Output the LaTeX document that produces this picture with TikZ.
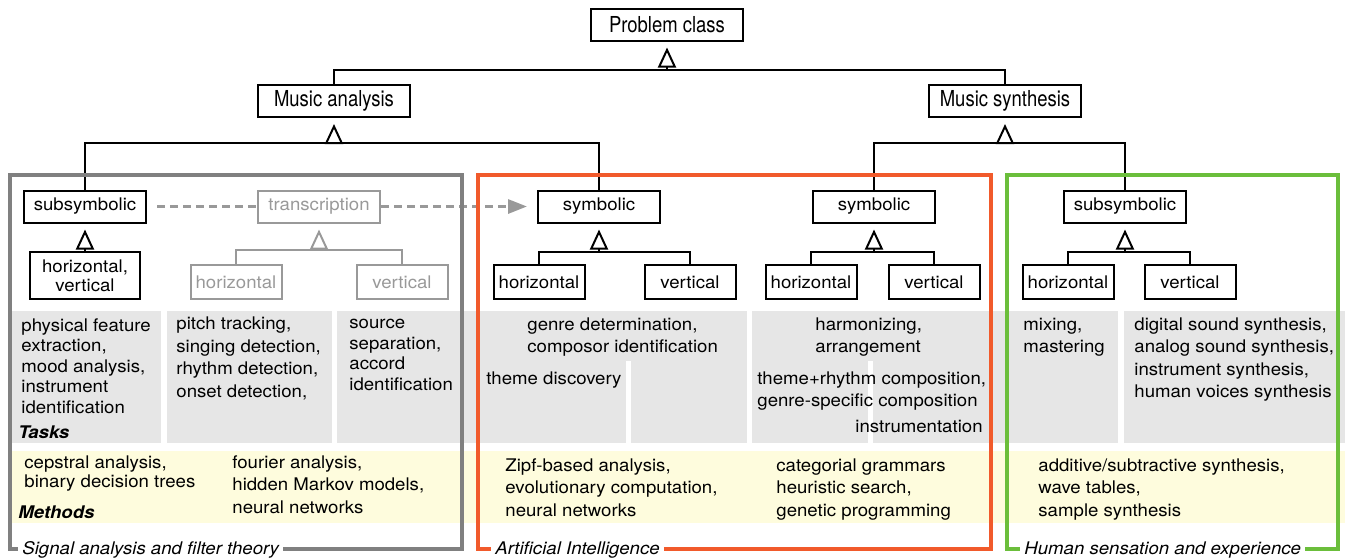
\documentclass[tikz,border=0pt]{standalone}
\usepackage{fontspec}
\usetikzlibrary{arrows.meta, positioning}
\setmainfont{TeX Gyre Heros}[FakeStretch=1.07]
\newfontfamily\headfont{TeX Gyre Heros}[FakeStretch=0.84]
\definecolor{csig}{HTML}{808080}
\definecolor{cai}{HTML}{F15A2B}
\definecolor{chum}{HTML}{6BBE3B}
\definecolor{ctask}{HTML}{E6E6E6}
\definecolor{cmeth}{HTML}{FEFCDD}
\definecolor{cfade}{HTML}{999999}

\begin{document}
\begin{tikzpicture}[x=0.5pt, y=-0.5pt,
  font=\fontsize{8.7}{11.25}\selectfont,
  head/.style={draw, line width=1pt, font=\headfont\fontsize{11}{13}\selectfont,
               minimum width=76pt, minimum height=16pt, inner sep=0pt},
  cls/.style={draw, line width=1pt, minimum width=61pt, minimum height=16pt, inner sep=0pt},
  leaf/.style={draw, line width=1pt, minimum width=45.5pt, minimum height=17pt, inner sep=0pt},
  faded/.style={draw=cfade, text=cfade},
  gen/.style={line width=1pt, -{Triangle[open, length=10pt, width=9pt]}, shorten >=3pt},
  hint/.style={line width=1.5pt, cfade, dash pattern=on 4pt off 2.5pt},
  txt/.style={anchor=base west, align=left, inner sep=0pt},
  frame/.style={line width=2pt, draw=#1},
  tag/.style={anchor=base west, fill=white, inner xsep=2pt, inner ysep=1pt,
              font=\fontsize{8.7}{11}\selectfont\itshape}
]
\useasboundingbox (0,0) rectangle (1345,558);

% task and method bands
\fill[ctask] (10,311) rectangle (161,443);
\fill[ctask] (167,311) rectangle (332,443);
\fill[ctask] (337,311) rectangle (747,443);
\fill[ctask] (752,311) rectangle (1118,443);
\fill[ctask] (1124,311) rectangle (1345,443);
\fill[white] (626,361) rectangle (631,443);
\fill[white] (868,361) rectangle (873,443);
\fill[cmeth] (10,451) rectangle (1345,523);

% class tree
\node[head] (pc) at (667,24.5) {Problem class};
\node[head] (ma) at (334,101) {Music analysis};
\node[head] (ms) at (1005,101) {Music synthesis};

\node[cls] (ss1)  at (85,206.5)  {subsymbolic};
\node[cls, faded] (tr) at (319,206.5) {transcription};
\node[cls] (sym1) at (599,206.5) {symbolic};
\node[cls] (sym2) at (874,206.5) {symbolic};
\node[cls] (ss2)  at (1125,206.5) {subsymbolic};

\node[leaf, minimum width=55pt, minimum height=23.5pt, align=center,
      font=\fontsize{8.7}{9.3}\selectfont] (hv) at (85,275.5) {horizontal,\\vertical};
\node[leaf, faded] (th) at (236,282) {horizontal};
\node[leaf, faded] (tv) at (402,282) {vertical};
\node[leaf] (h1) at (539,282) {horizontal};
\node[leaf] (v1) at (690,282) {vertical};
\node[leaf] (h2) at (811,282) {horizontal};
\node[leaf] (v2) at (934,282) {vertical};
\node[leaf] (h3) at (1068,282) {horizontal};
\node[leaf] (v3) at (1190,282) {vertical};

\coordinate (j0) at (667,70);
\coordinate (j1) at (334,143);
\coordinate (j2) at (1005,143);
\coordinate (j3) at (319,250);
\coordinate (j4) at (599,252);
\coordinate (j5) at (874,252);
\coordinate (j6) at (1125,252);

\draw[line width=1pt] (ma.north) |- (j0) -| (ms.north);
\draw[gen] (j0) -- (pc);
\draw[line width=1pt] (ss1.north) |- (j1) -| (sym1.north);
\draw[gen] (j1) -- (ma);
\draw[line width=1pt] (sym2.north) |- (j2) -| (ss2.north);
\draw[gen] (j2) -- (ms);
\draw[gen] (hv) -- (ss1);
\draw[line width=1pt, cfade] (th.north) |- (j3) -| (tv.north);
\draw[gen, cfade] (j3) -- (tr);
\draw[line width=1pt] (h1.north) |- (j4) -| (v1.north);
\draw[gen] (j4) -- (sym1);
\draw[line width=1pt] (h2.north) |- (j5) -| (v2.north);
\draw[gen] (j5) -- (sym2);
\draw[line width=1pt] (h3.north) |- (j6) -| (v3.north);
\draw[gen] (j6) -- (ss2);

% subsymbolic -> transcription -> symbolic
\draw[hint, shorten <=5pt] (ss1) -- (tr);
\draw[hint, -{Triangle[length=9.5pt, width=7pt]}, shorten >=5pt] (tr) -- (sym1);

% field frames
\draw[frame=csig] (10,175) rectangle (462,549);
\draw[frame=cai] (478,175) rectangle (991,549);
\draw[frame=chum] (1007,175) rectangle (1338,549);
\node[tag] (lsig) at (18,554) {Signal analysis and filter theory};
\node[tag] (lai)  at (491,554) {Artificial Intelligence};
\node[tag] (lhum) at (1020,554) {Human sensation and experience};

% tasks (placed at the baseline of their last line)
\node[txt, font=\fontsize{8.7}{10.25}\selectfont] (t1) at (21,413)
  {physical feature\\extraction,\\mood analysis,\\instrument\\identification};
\node[txt] (t2) at (176,397)
  {pitch tracking,\\singing detection,\\rhythm detection,\\onset detection,};
\node[txt, font=\fontsize{8.7}{10.2}\selectfont] (t3) at (349,390)
  {source\\separation,\\accord\\identification};
\node[txt] (t4) at (527,352.5) {genre determination,\\composor identification};
\node[txt] (t5) at (486,384) {theme discovery};
\node[txt] (t6) at (815,352.5) {harmonizing,\\arrangement};
\node[txt] (t7) at (757,406.5) {theme+rhythm composition,\\genre-specific composition};
\node[anchor=base east, inner sep=0pt] (t8) at (983,432) {instrumentation};
\node[txt] (t9) at (1023,352.5) {mixing,\\mastering};
\node[txt] (t10) at (1134,397.5)
  {digital sound synthesis,\\analog sound synthesis,\\instrument synthesis,\\human voices synthesis};
\node[txt, font=\fontsize{8.7}{11}\selectfont\bfseries\itshape] (ltask) at (18,438) {Tasks};

% methods
\node[txt, font=\fontsize{8.7}{9.5}\selectfont] (m1) at (24,487)
  {cepstral analysis,\\binary decision trees};
\node[txt] (m2) at (232,513) {fourier analysis,\\hidden Markov models,\\neural networks};
\node[txt] (m3) at (505,516) {Zipf-based analysis,\\evolutionary computation,\\neural networks};
\node[txt] (m4) at (776,516) {categorial grammars\\heuristic search,\\genetic programming};
\node[txt] (m5) at (1038,516) {additive/subtractive synthesis,\\wave tables,\\sample synthesis};
\node[txt, font=\fontsize{8.7}{11}\selectfont\bfseries\itshape] (lmeth) at (18,518) {Methods};
\end{tikzpicture}
\end{document}
